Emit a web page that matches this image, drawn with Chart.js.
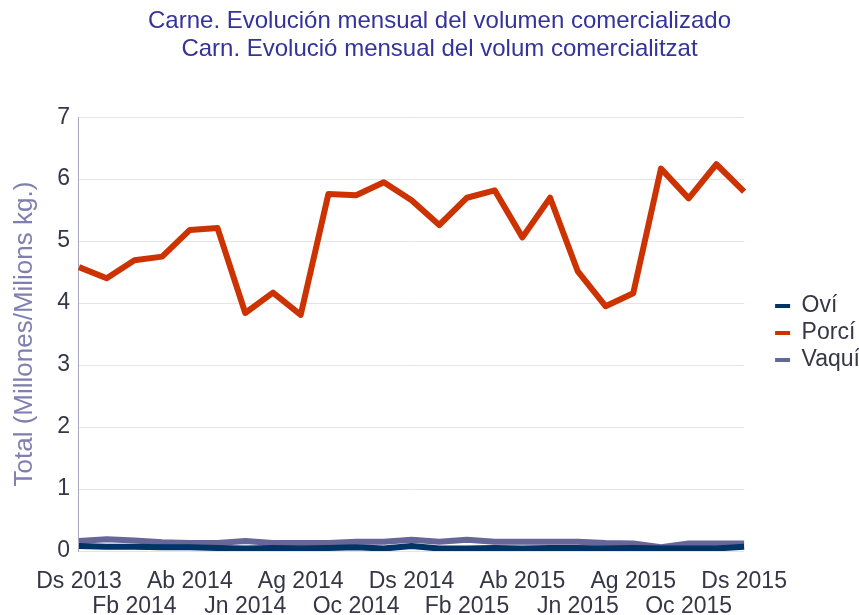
<!DOCTYPE html>
<html>
<head>
<meta charset="utf-8">
<script src="https://cdn.jsdelivr.net/npm/chart.js@4.4.0/dist/chart.umd.min.js"></script>
<style>
  html, body { margin: 0; padding: 0; background: #fff; }
  #wrap { width: 859px; height: 615px; }
</style>
</head>
<body>
<div id="wrap"><canvas id="chart" width="859" height="615"></canvas></div>
<script>
const months = ['Ds 2013', 'Gn 2014', 'Fb 2014', 'Mç 2014', 'Ab 2014', 'My 2014', 'Jn 2014', 'Jl 2014',
  'Ag 2014', 'St 2014', 'Oc 2014', 'Nv 2014', 'Ds 2014', 'Gn 2015', 'Fb 2015', 'Mç 2015', 'Ab 2015',
  'My 2015', 'Jn 2015', 'Jl 2015', 'Ag 2015', 'St 2015', 'Oc 2015', 'Nv 2015', 'Ds 2015'];

const ovi = [0.08, 0.07, 0.07, 0.06, 0.06, 0.05, 0.04, 0.05, 0.04, 0.05, 0.06, 0.04, 0.08,
  0.04, 0.04, 0.05, 0.04, 0.05, 0.05, 0.04, 0.05, 0.04, 0.04, 0.04, 0.07];
const porci = [4.58, 4.40, 4.69, 4.75, 5.18, 5.21, 3.84, 4.17, 3.81, 5.76, 5.74, 5.95, 5.66,
  5.26, 5.70, 5.82, 5.06, 5.70, 4.51, 3.95, 4.16, 6.17, 5.69, 6.24, 5.80];
const vaqui = [0.16, 0.19, 0.17, 0.14, 0.13, 0.13, 0.16, 0.13, 0.13, 0.13, 0.15, 0.15, 0.18,
  0.15, 0.18, 0.15, 0.15, 0.15, 0.15, 0.13, 0.12, 0.06, 0.12, 0.12, 0.12];

const titleLines = ['Carne. Evolución mensual del volumen comercializado',
  'Carn. Evolució mensual del volum comercialitzat'];

const textColor = '#363646';

Chart.defaults.font.family = '"Liberation Sans", Arial, sans-serif';

new Chart(document.getElementById('chart'), {
  type: 'line',
  data: {
    labels: months,
    datasets: [
      { label: 'Oví', data: ovi, borderColor: '#003366', backgroundColor: '#003366', borderWidth: 6 },
      { label: 'Porcí', data: porci, borderColor: '#cc3300', backgroundColor: '#cc3300', borderWidth: 6 },
      { label: 'Vaquí', data: vaqui, borderColor: '#666699', backgroundColor: '#666699', borderWidth: 6 }
    ]
  },
  options: {
    responsive: false,
    animation: false,
    elements: { point: { radius: 0 }, line: { tension: 0, borderJoinStyle: 'round' } },
    layout: { padding: { left: 9, right: -11, top: 7, bottom: 0 } },
    plugins: {
      title: {
        display: true,
        text: titleLines,
        color: '#333399',
        font: { size: 24, weight: 'normal', lineHeight: 1.17 },
        padding: { top: 0, bottom: 54 }
      },
      legend: {
        position: 'right',
        // empty legend title only pushes the items down to match the reference
        title: { display: true, text: '', padding: 0, font: { size: 44, lineHeight: 1 } },
        labels: {
          color: textColor,
          font: { size: 23 },
          boxWidth: 15,
          boxHeight: 4,
          padding: 4,
          generateLabels: function (chart) {
            return Chart.defaults.plugins.legend.labels.generateLabels(chart)
              .map(function (l) { l.lineWidth = 0; return l; });
          }
        }
      },
      tooltip: { enabled: false }
    },
    scales: {
      x: {
        offset: false,
        grid: { display: false, drawTicks: false },
        border: { display: false },
        ticks: {
          autoSkip: false,
          maxRotation: 0,
          color: textColor,
          font: { size: 23, lineHeight: 1.05 },
          padding: 19,
          callback: function (value, index) {
            if (index % 4 === 0) return [months[index], ''];
            if (index % 4 === 2) return ['', months[index]];
            return '';
          }
        },
        afterFit: function (scale) { scale.height = 64; }
      },
      y: {
        min: 0,
        max: 7,
        ticks: { stepSize: 1, color: textColor, font: { size: 23 }, padding: 9 },
        grid: { color: '#e4e4ee', drawTicks: false },
        border: { color: '#a8a8c4' },
        title: {
          display: true,
          text: 'Total (Millones/Milions kg.)',
          color: '#8080b0',
          font: { size: 26 },
          padding: { top: 0, bottom: 8 }
        }
      },
      // blank axis: keeps a gap between the plot and the legend
      gap: {
        position: 'right',
        grid: { display: false, drawTicks: false },
        border: { display: false },
        ticks: { display: false },
        afterFit: function (scale) { scale.width = 27; }
      }
    }
  }
});
</script>
</body>
</html>
